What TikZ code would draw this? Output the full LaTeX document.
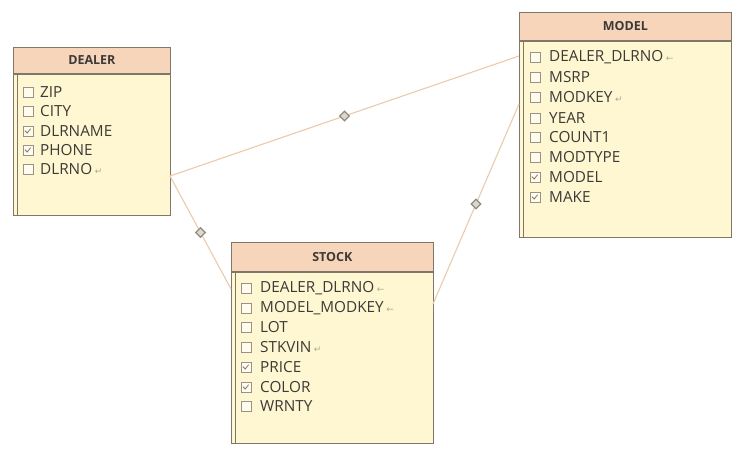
\documentclass[tikz,border=0pt]{standalone}
\usepackage{fontspec}
\setmainfont{Open Sans}
\newfontfamily\symfont{DejaVu Sans}
\usetikzlibrary{shapes.geometric}
\definecolor{hdr}{HTML}{F7D5BA}
\definecolor{bodyc}{HTML}{FFF7D2}
\definecolor{edgec}{HTML}{7E776A}
\definecolor{linkc}{HTML}{EACBAE}
\definecolor{txtc}{HTML}{3C3A36}
\definecolor{markc}{HTML}{B0A890}
\newcommand\keyg{\,{\symfont\color{markc}\fontsize{9}{9}\selectfont ↵}}
\newcommand\fkg{\,{\symfont\color{markc}\fontsize{9}{9}\selectfont ←}}
\tikzset{
  bodybox/.style={draw=edgec, line width=0.9pt, fill=bodyc, anchor=north west, inner sep=0pt},
  hdrbox/.style={draw=edgec, line width=0.7pt, fill=hdr, anchor=north west, inner sep=0pt},
  title/.style={font=\fontsize{12.5}{14}\selectfont\bfseries, text=txtc, inner sep=0pt},
  row/.style={font=\fontsize{15.3}{17}\selectfont, text=txtc, anchor=west, inner sep=0pt},
  cb/.style={draw=edgec!80, line width=0.7pt, fill=white!60!bodyc, minimum size=10pt, inner sep=0pt},
  cbchk/.style={cb, path picture={\draw[edgec, line width=0.8pt]
      ([xshift=-3pt,yshift=0.3pt]path picture bounding box.center) -- ++(2.2pt,-2.3pt) -- ++(3.4pt,4.3pt);}},
  link/.style={draw=linkc, line width=1.1pt},
  mid/.style={diamond, draw=edgec!85, fill=markc!45, line width=1.2pt, minimum size=10pt, inner sep=0pt}
}
\begin{document}
\begin{tikzpicture}[x=1pt,y=-1pt]
\useasboundingbox[fill=white] (0,0) rectangle (740,451);

% ---------- DEALER ----------
\node[bodybox, minimum width=157pt, minimum height=168pt] (dealer) at (13,47) {};
\node[hdrbox, minimum width=157pt, minimum height=26pt] (dealerh) at (13,47) {};
\draw[edgec, line width=1.6pt] (dealerh.south west) -- (dealerh.south east);
\draw[edgec, line width=1pt] ([xshift=4pt]dealerh.south west) -- ([xshift=4pt]dealer.south west);
\node[title] (dealert) at (dealerh.center) {DEALER};
\node[cb] (d1c) at (28,92) {};    \node[row] (d1) at (40,92) {ZIP};
\node[cb] (d2c) at (28,111) {};   \node[row] (d2) at (40,111) {CITY};
\node[cbchk] (d3c) at (28,131) {};\node[row] (d3) at (40,131) {DLRNAME};
\node[cbchk] (d4c) at (28,150) {};\node[row] (d4) at (40,150) {PHONE};
\node[cb] (d5c) at (28,169) {};   \node[row] (d5) at (40,169) {DLRNO\keyg};

% ---------- MODEL ----------
\node[bodybox, minimum width=212pt, minimum height=225pt] (model) at (519,12) {};
\node[hdrbox, minimum width=212pt, minimum height=28pt] (modelh) at (519,12) {};
\draw[edgec, line width=1.6pt] (modelh.south west) -- (modelh.south east);
\draw[edgec, line width=1pt] ([xshift=4pt]modelh.south west) -- ([xshift=4pt]model.south west);
\node[title] (modelt) at (modelh.center) {MODEL};
\node[cb] (m1c) at (535,57) {};    \node[row] (m1) at (549,57) {DEALER\_DLRNO\fkg};
\node[cb] (m2c) at (535,77) {};    \node[row] (m2) at (549,77) {MSRP};
\node[cb] (m3c) at (535,97) {};    \node[row] (m3) at (549,97) {MODKEY\keyg};
\node[cb] (m4c) at (535,118) {};   \node[row] (m4) at (549,118) {YEAR};
\node[cb] (m5c) at (535,137) {};   \node[row] (m5) at (549,137) {COUNT1};
\node[cb] (m6c) at (535,157) {};   \node[row] (m6) at (549,157) {MODTYPE};
\node[cbchk] (m7c) at (535,177) {};\node[row] (m7) at (549,177) {MODEL};
\node[cbchk] (m8c) at (535,197) {};\node[row] (m8) at (549,197) {MAKE};

% ---------- STOCK ----------
\node[bodybox, minimum width=202pt, minimum height=201pt] (stock) at (231,242) {};
\node[hdrbox, minimum width=202pt, minimum height=29pt] (stockh) at (231,242) {};
\draw[edgec, line width=1.6pt] (stockh.south west) -- (stockh.south east);
\draw[edgec, line width=1pt] ([xshift=4pt]stockh.south west) -- ([xshift=4pt]stock.south west);
\node[title] (stockt) at (stockh.center) {STOCK};
\node[cb] (s1c) at (246,288) {};    \node[row] (s1) at (260,288) {DEALER\_DLRNO\fkg};
\node[cb] (s2c) at (246,308) {};    \node[row] (s2) at (260,308) {MODEL\_MODKEY\fkg};
\node[cb] (s3c) at (246,327) {};    \node[row] (s3) at (260,327) {LOT};
\node[cb] (s4c) at (246,347) {};    \node[row] (s4) at (260,347) {STKVIN\keyg};
\node[cbchk] (s5c) at (246,367) {}; \node[row] (s5) at (260,367) {PRICE};
\node[cbchk] (s6c) at (246,387) {}; \node[row] (s6) at (260,387) {COLOR};
\node[cb] (s7c) at (246,406) {};    \node[row] (s7) at (260,406) {WRNTY};

% ---------- connectors ----------
\coordinate (dA) at (170,176);
\coordinate (mA) at (519,56);
\coordinate (mB) at (519,104);
\coordinate (sA) at (231,289);
\coordinate (sB) at (433,304);
\path[link] (dA) -- node[mid] (j1) {} (mA);
\path[link] (dA) -- node[mid] (j2) {} (sA);
\path[link] (sB) -- node[mid] (j3) {} (mB);
\end{tikzpicture}
\end{document}
